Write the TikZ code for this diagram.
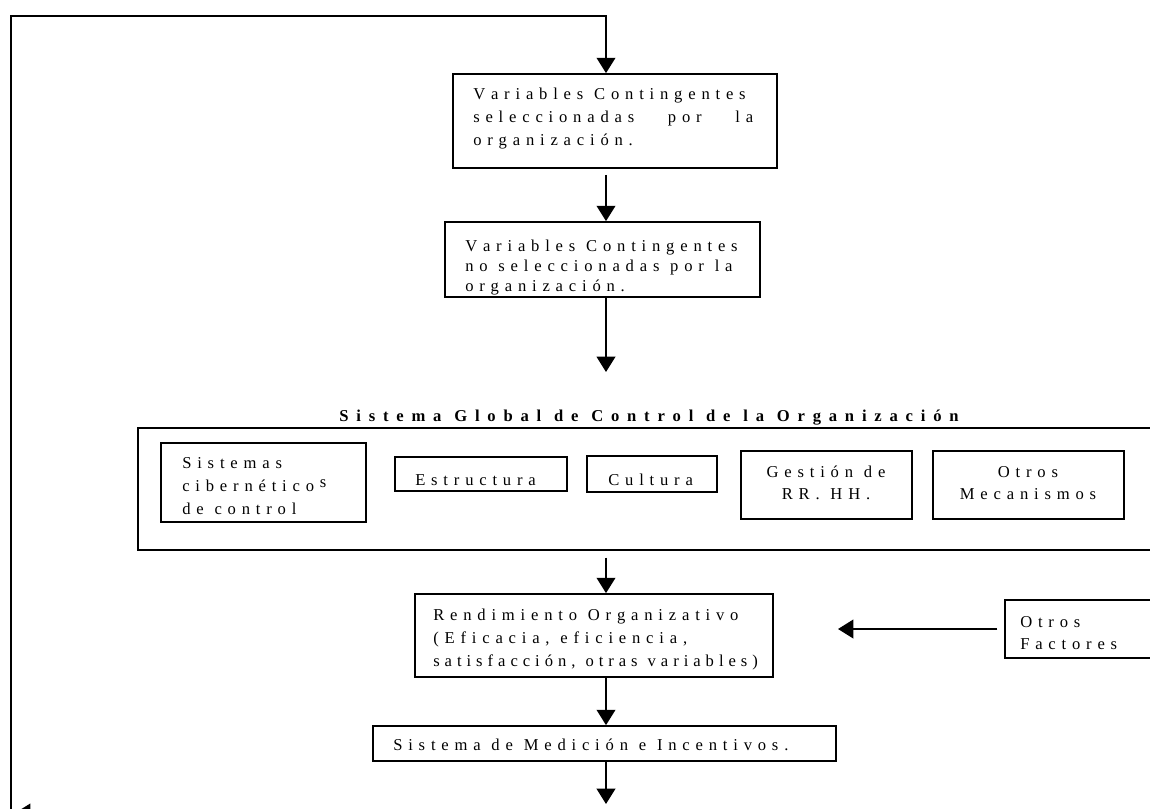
\documentclass[tikz,border=0pt]{standalone}
\usepackage{fontspec}
\setmainfont{Liberation Serif}
\usetikzlibrary{arrows.meta,fit}

% letter-spaced text: a kern after every glyph, a wider gap between words
\ExplSyntaxOn
\bool_new:N \l__track_first_bool
\seq_new:N \l__track_words_seq
\NewDocumentCommand \tracked { O{0.35em} m }
  {
    \seq_set_split:Nnn \l__track_words_seq { ~ } { #2 }
    \bool_set_true:N \l__track_first_bool
    \seq_map_inline:Nn \l__track_words_seq
      {
        \bool_if:NF \l__track_first_bool { \hspace{0.3em} }
        \bool_set_false:N \l__track_first_bool
        \tl_map_inline:nn { ##1 } { ####1 \kern #1 }
      }
    \unkern
  }
\ExplSyntaxOff

% body text of the boxes: size and leading
\newcommand\flowfont[1]{\fontsize{12.45pt}{#1}\selectfont}
% heading of the control system
\newcommand\headstyle{\bfseries\fontsize{12.45pt}{15pt}\selectfont}

\begin{document}
\begin{tikzpicture}[x=0.75pt, y=-0.75pt,
  box/.style={draw, line width=1.3pt, inner sep=0pt},
  txt/.style={inner sep=0pt, align=left, anchor=base west, font=\flowfont{17.6pt}},
  ctxt/.style={inner sep=0pt, align=center, anchor=base, font=\flowfont{16.5pt}},
  arr/.style={line width=1.3pt, -{Triangle[length=11.5pt,width=14pt]}}]
\useasboundingbox (0,0) rectangle (1150,808);
\clip (0,0) rectangle (1150,808);

% shared vertical axis of the main flow
\coordinate (axis) at (606,0);

% contingent variables
\node[box, fit={(453,74) (777,168)}] (b1) {};
\node[txt, text width=210pt, font=\flowfont{17.5pt}] (b1t) at (473,99)
  {\tracked{Variables Contingentes}\\
   \tracked{seleccionadas}\hfill\tracked{por}\hfill\tracked{la}\\
   \tracked{organización.}};

\node[box, fit={(445,222) (760,297)}] (b2) {};
\node[txt, text width=230pt, font=\flowfont{15pt}] (b2t) at (465,251)
  {\tracked{Variables Contingentes}\\
   \tracked{no seleccionadas por la}\\
   \tracked{organización.}};

% global control system
\node[anchor=base, inner sep=0pt, font=\headstyle]
  (title) at (649,421) {\tracked[0.47em]{Sistema Global de Control de la Organización}};
\coordinate (titletop) at (606,372);

\node[box, fit={(138,428) (1175,550)}] (outer) {};

\node[box, fit={(161,443) (366,522)}] (cib) {};
\node[txt, text width=150pt] (cibt) at (182,468)
  {\tracked{Sistemas}\\
   \tracked{cibernético}\kern0.35em\raisebox{3pt}{s}\\
   \tracked{de control}};

\node[box, fit={(395,457) (567,491)}] (est) {};
\node[txt] (estt) at (415,485) {\tracked{Estructura}};

\node[box, fit={(587,456) (717,492)}] (cul) {};
\node[txt] (cult) at (608,485) {\tracked{Cultura}};

\node[box, fit={(741,451) (912,519)}] (rrhh) {};
\node[ctxt, text width=125pt] (rrhht) at (826,477)
  {\tracked{Gestión de}\\ \tracked{RR. HH.}};

\node[box, fit={(933,451) (1124,519)}] (otm) {};
\node[ctxt, text width=140pt] (otmt) at (1028,477)
  {\tracked{Otros}\\ \tracked{Mecanismos}};

% performance and other factors
\node[box, fit={(415,594) (773,677)}] (rend) {};
\node[txt, text width=260pt] (rendt) at (433,620)
  {\tracked{Rendimiento Organizativo}\\
   \tracked{(Eficacia, eficiencia,}\\
   \tracked[0.3em]{satisfacción, otras variables)}};

\node[box, fit={(1005,600) (1175,658)}] (of) {};
\node[txt, text width=110pt, font=\flowfont{16.5pt}] (oft) at (1020,627)
  {\tracked{Otros}\\ \tracked{Factores}};
\coordinate (oftip) at (838,629);

% measurement and incentives
\node[box, fit={(373,726) (836,761)}] (med) {};
\node[txt] (medt) at (393,750) {\tracked{Sistema de Medición e Incentivos.}};
\coordinate (medtip) at (606,804);

% feedback loop corners
\coordinate (loopbot) at (11,813);
\coordinate (looptop) at (11,16);
\coordinate (backstart) at (70,813);
\coordinate (backtip) at (15,813);

% connectors
\draw[arr] (loopbot) -- (looptop) -| (b1.north -| axis);
\draw[arr, shorten <=4.5pt] (b1.south -| axis) -- (b2.north -| axis);
\draw[arr] (b2.south -| axis) -- (titletop);
\draw[arr, shorten <=5pt] (outer.south -| axis) -- (rend.north -| axis);
\draw[arr, shorten <=5pt] (of.west) -- (oftip);
\draw[arr] (rend.south -| axis) -- (med.north -| axis);
\draw[arr] (med.south -| axis) -- (medtip);
\draw[arr] (backstart) -- (backtip);
\end{tikzpicture}
\end{document}
